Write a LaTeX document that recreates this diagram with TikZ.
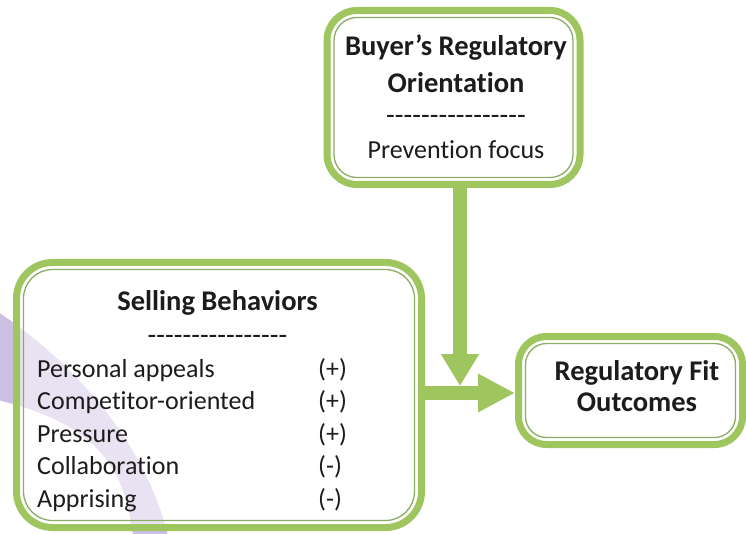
\documentclass[tikz,border=0pt]{standalone}
\usepackage{fontspec}
\setmainfont{Carlito}[Ligatures={TeX,NoCommon}]
\usetikzlibrary{arrows.meta}

\definecolor{leaf}{RGB}{159,197,95}
\definecolor{leafthin}{RGB}{140,172,100}
\definecolor{lilac}{RGB}{204,191,228}
\definecolor{ink}{RGB}{28,28,28}

\newcommand{\dashline}{-\kern0pt-\kern0pt-\kern0pt-\kern0pt-\kern0pt-\kern0pt-\kern0pt-\kern0pt-\kern0pt-\kern0pt-\kern0pt-\kern0pt-\kern0pt-\kern0pt-\kern0pt-}

\tikzset{
  frame/.style={draw=leaf, line width=7pt, fill=white, fill opacity=0.55,
    inner sep=0pt, outer sep=0pt},
  innerframe/.style={draw=leafthin, line width=1.3pt},
  flow/.style={draw=leaf, line width=14pt, line cap=butt},
  headline/.style={text=ink, font=\fontsize{28.5}{34}\selectfont\bfseries, inner sep=0pt},
  plain/.style={text=ink, font=\fontsize{26}{32}\selectfont, inner sep=0pt},
  rule/.style={text=ink, font=\fontsize{28.5}{34}\selectfont, inner sep=0pt},
}

\begin{document}
\begin{tikzpicture}[x=1pt,y=-1pt]
\useasboundingbox (0,0) rectangle (746,534);
\fill[white] (0,0) rectangle (746,534);

% faint lilac crescent in the lower left
\fill[lilac] (-2,312) .. controls (70,360) and (145,440) .. (168,536)
  -- (133,536) .. controls (125,470) and (100,425) .. (-2,400) -- cycle;

% boxes
\node[frame, rounded corners=30pt, minimum width=253pt, minimum height=174pt] (buyer) at (453.5,97.5) {};
\node[frame, rounded corners=36pt, minimum width=405pt, minimum height=265pt] (sell) at (219,395) {};
\node[frame, rounded corners=28pt, minimum width=224pt, minimum height=108pt] (fit) at (630.5,390.5) {};

\draw[innerframe, rounded corners=23pt] ([xshift=7pt,yshift=-7pt]buyer.north west) rectangle ([xshift=-7pt,yshift=7pt]buyer.south east);
\draw[innerframe, rounded corners=29pt] ([xshift=7pt,yshift=-7pt]sell.north west) rectangle ([xshift=-7pt,yshift=7pt]sell.south east);
\draw[innerframe, rounded corners=21pt] ([xshift=7pt,yshift=-7pt]fit.north west) rectangle ([xshift=-7pt,yshift=7pt]fit.south east);

% connectors
\coordinate (meet) at (460,386);
\coordinate (row) at (0,393);
\draw[flow, -{Triangle[width=36pt,length=32pt]}] (buyer.south -| meet) -- (meet);
\draw[flow, -{Triangle[width=36pt,length=37pt]}, shorten >=3.5pt] (sell.east |- row) -- (fit.west |- row);

% texts of the top box
\node[headline, anchor=base] (b1) at (456,56) {Buyer’s Regulatory};
\node[headline, anchor=base] (b2) at (456,93) {Orientation};
\node[rule, anchor=base] (b3) at (456,125) {\dashline};
\node[plain, anchor=base] (b4) at (456,159) {Prevention focus};

% texts of the left box
\node[headline, anchor=base] (s0) at (217.5,310) {Selling Behaviors};
\node[rule, anchor=base] (sd) at (217.5,344) {\dashline};
\node[plain, anchor=base west] (s1) at (37,377) {Personal appeals};
\node[plain, anchor=base west] (s2) at (37,409.5) {Competitor-oriented};
\node[plain, anchor=base west] (s3) at (37,442) {Pressure};
\node[plain, anchor=base west] (s4) at (37,474.5) {Collaboration};
\node[plain, anchor=base west] (s5) at (37,507) {Apprising};
\node[plain, anchor=base west] (p1) at (318,377) {(+)};
\node[plain, anchor=base west] (p2) at (318,409.5) {(+)};
\node[plain, anchor=base west] (p3) at (318,442) {(+)};
\node[plain, anchor=base west] (p4) at (318,474.5) {(-)};
\node[plain, anchor=base west] (p5) at (318,507) {(-)};

% texts of the right box
\node[headline, anchor=base] (f1) at (637,380) {Regulatory Fit};
\node[headline, anchor=base] (f2) at (637,411) {Outcomes};
\end{tikzpicture}
\end{document}
